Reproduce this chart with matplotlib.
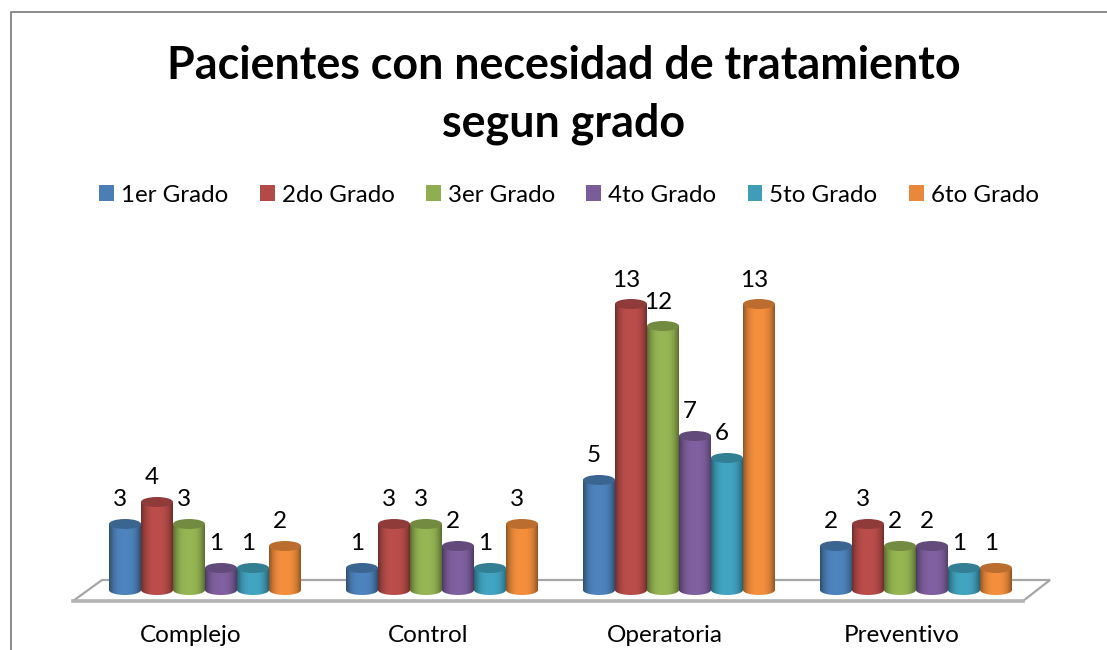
"""Grouped pseudo-3D cylinder bars: pacientes con necesidad de tratamiento."""

import matplotlib

matplotlib.use("Agg")

import matplotlib.pyplot as plt
import numpy as np
from matplotlib.colors import to_rgb
from matplotlib.lines import Line2D
from matplotlib.patches import Ellipse, Patch, PathPatch, Polygon
from matplotlib.path import Path

plt.rcParams["font.family"] = ["Lato", "DejaVu Sans"]

categories = ["Complejo", "Control", "Operatoria", "Preventivo"]
grades = ["1er Grado", "2do Grado", "3er Grado", "4to Grado", "5to Grado", "6to Grado"]
grado_1 = [3, 1, 5, 2]
grado_2 = [4, 3, 13, 3]
grado_3 = [3, 3, 12, 2]
grado_4 = [1, 2, 7, 2]
grado_5 = [1, 1, 6, 1]
grado_6 = [2, 3, 13, 1]
series = [grado_1, grado_2, grado_3, grado_4, grado_5, grado_6]
colors = ["#4a7eb5", "#b24a47", "#8fae50", "#7a5c99", "#3f9db8", "#e8883a"]

W, H = 1107, 650
DPI = 100

# pixel layout of the plot area
PX_LEFT, PX_RIGHT = 60, 1060
PX_ZERO, PX_TOP, PX_BOTTOM = 590, 260, 600
PX_PER_UNIT = 22.0
PX_PER_GROUP = 237.0
PX_FIRST_LABEL = 191.0
PX_BAR = 32.0
PX_CAP = 10.0

bar_w = PX_BAR / PX_PER_GROUP
cap_h = PX_CAP / PX_PER_UNIT
shift = 14.0 / PX_PER_GROUP
label_dx = -5.0 / PX_PER_GROUP
label_dy = 13.5 / PX_PER_UNIT
x_limits = ((PX_LEFT - PX_FIRST_LABEL) / PX_PER_GROUP, (PX_RIGHT - PX_FIRST_LABEL) / PX_PER_GROUP)
y_limits = ((PX_ZERO - PX_BOTTOM) / PX_PER_UNIT, (PX_ZERO - PX_TOP) / PX_PER_UNIT)


def shade_profile(n=40):
    # dark edges, bright middle, like a lit cylinder
    t = np.linspace(-1, 1, n)
    return 1.05 - 0.42 * np.abs(t) ** 3


def draw_cylinder(ax, xc, value, color, zorder):
    rgb = np.array(to_rgb(color))
    left, right = xc - bar_w / 2, xc + bar_w / 2
    theta = np.linspace(np.pi, 2 * np.pi, 30)
    arc_x = xc + bar_w / 2 * np.cos(theta)
    arc_y = cap_h / 2 * np.sin(theta)
    verts = [(left, value)] + list(zip(arc_x, arc_y)) + [(right, value), (left, value)]
    codes = [Path.MOVETO] + [Path.LINETO] * (len(verts) - 2) + [Path.CLOSEPOLY]
    clip = PathPatch(Path(verts, codes), transform=ax.transData, facecolor="none", edgecolor="none")
    ax.add_patch(clip)
    body = np.clip(shade_profile()[None, :, None] * rgb[None, None, :], 0, 1)
    im = ax.imshow(
        body,
        extent=(left, right, -cap_h, value),
        aspect="auto",
        origin="lower",
        zorder=zorder,
        interpolation="bilinear",
    )
    im.set_clip_path(clip)
    ax.add_patch(
        Ellipse((xc, value), bar_w, cap_h, facecolor=rgb * 0.8, edgecolor="none", zorder=zorder + 0.1)
    )


fig = plt.figure(figsize=(W / DPI, H / DPI), dpi=DPI, facecolor="white")


def px(x, y):
    return x / W, 1 - y / H


ax = fig.add_axes(
    [PX_LEFT / W, 1 - PX_BOTTOM / H, (PX_RIGHT - PX_LEFT) / W, (PX_BOTTOM - PX_TOP) / H]
)
ax.set_zorder(2)  # bars stand on top of the floor
ax.patch.set_alpha(0)
for spine in ax.spines.values():
    spine.set_visible(False)
ax.set_yticks([])
ax.set_xticks(range(len(categories)))
ax.set_xticklabels(categories, fontsize=17.5, color="black")
ax.tick_params(axis="x", length=0, pad=18)

# chart frame, cut by the image on the right and at the bottom
fig.add_artist(
    Line2D(*zip(px(11, 650), px(11, 12), px(1107, 12)), color="#8c8c8c", linewidth=1.4, transform=fig.transFigure)
)

# floor of the 3D plot
floor_pts = [px(73, 601), px(1023, 601), px(1050, 580), px(102, 580)]
fig.add_artist(
    Polygon(floor_pts, closed=True, facecolor="white", edgecolor="#a6a6a6", linewidth=1.6, transform=fig.transFigure, zorder=0.5)
)
fig.add_artist(
    Line2D(*zip(floor_pts[0], floor_pts[1]), color="#b4b4b4", linewidth=2.6, transform=fig.transFigure, zorder=0.6)
)

for g in range(len(categories)):
    for s, vals in enumerate(series):
        xc = g + shift + (s - 2.5) * bar_w
        draw_cylinder(ax, xc, vals[g], colors[s], zorder=3 + s * 0.2)
        ax.text(
            xc + label_dx,
            vals[g] + label_dy,
            str(vals[g]),
            ha="center",
            va="bottom",
            fontsize=17.5,
            color="black",
            zorder=10,
            clip_on=False,
        )
ax.set_xlim(*x_limits)
ax.set_ylim(*y_limits)

fig.text(
    564 / W,
    1 - 95 / H,
    "Pacientes con necesidad de tratamiento\nsegun grado",
    ha="center",
    va="center",
    fontsize=32.3,
    fontweight="bold",
    linespacing=1.48,
    color="black",
)

handles = [Patch(facecolor=c, edgecolor="none") for c in colors]
fig.legend(
    handles,
    grades,
    loc="center",
    bbox_to_anchor=(569 / W, 1 - 195 / H),
    ncol=6,
    frameon=False,
    fontsize=17.4,
    handlelength=0.61,
    handleheight=0.61,
    handletextpad=0.29,
    columnspacing=1.3,
)

fig.savefig("out.png", dpi=DPI)
